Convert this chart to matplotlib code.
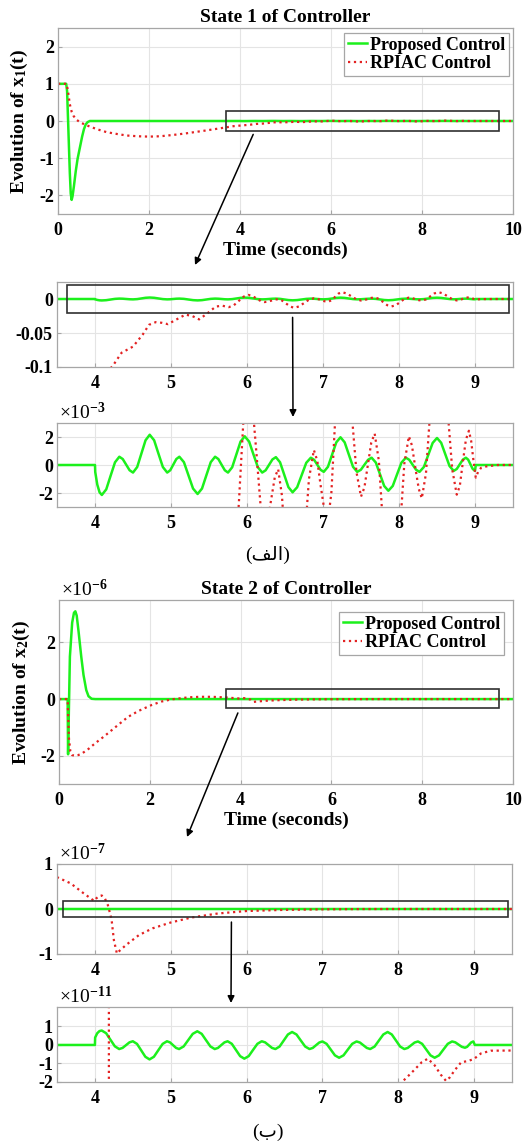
import numpy as np
import matplotlib
matplotlib.use("Agg")
import matplotlib.pyplot as plt
from matplotlib.patches import Rectangle, ConnectionPatch
from matplotlib.ticker import FuncFormatter

# --------------------------------------------------------
# Data
# --------------------------------------------------------

# state 1, proposed control: initial transient (units of 1)
t_x1_prop_start = [0, 0.18, 0.20, 0.23, 0.26, 0.28, 0.30, 0.32, 0.35, 0.39,
                   0.43, 0.48, 0.53, 0.57, 0.61, 0.65, 0.70]
x1_prop_start = [1, 1, 0.8, -0.3, -1.4, -1.95, -2.12, -2.02, -1.75, -1.35,
                 -1.02, -0.72, -0.42, -0.22, -0.09, -0.03, 0]

# state 1, proposed control: small oscillation after t = 4 (units of 1e-3)
t_x1_prop_osc = [4.00, 4.003, 4.03, 4.06, 4.09,
                 4.148, 4.205, 4.263, 4.32, 4.365, 4.41, 4.455, 4.50,
                 4.555, 4.61, 4.665, 4.72, 4.778, 4.835, 4.893, 4.95,
                 4.99, 5.03, 5.07, 5.11, 5.17, 5.23, 5.29, 5.35,
                 5.408, 5.465, 5.523, 5.58, 5.623, 5.665, 5.708, 5.75,
                 5.805, 5.86, 5.915, 5.97, 6.028, 6.085, 6.143, 6.20,
                 6.245, 6.29, 6.335, 6.38, 6.435, 6.49, 6.545, 6.60,
                 6.66, 6.72, 6.78, 6.84, 6.883, 6.925, 6.968, 7.01,
                 7.065, 7.12, 7.175, 7.23, 7.285, 7.34, 7.395, 7.45,
                 7.498, 7.545, 7.593, 7.64, 7.695, 7.75, 7.805, 7.86,
                 7.918, 7.975, 8.033, 8.09, 8.135, 8.18, 8.225, 8.27,
                 8.328, 8.385, 8.443, 8.50, 8.555, 8.61, 8.665, 8.72,
                 8.76, 8.80, 8.84, 8.88, 8.91, 8.94, 8.97, 9.00,
                 9.01, 10.0]
x1_prop_osc_e3 = [0, -0.5, -1.4, -1.95, -2.14,
                  -1.74, -0.775, 0.19, 0.59, 0.425, 0.025, -0.375, -0.54,
                  -0.146, 0.81, 1.766, 2.16, 1.766, 0.81, -0.146, -0.54,
                  -0.375, 0.025, 0.425, 0.59, 0.202, -0.74, -1.682, -2.07,
                  -1.682, -0.74, 0.202, 0.59, 0.425, 0.025, -0.375, -0.54,
                  -0.162, 0.755, 1.672, 2.05, 1.672, 0.755, -0.162, -0.54,
                  -0.379, 0.01, 0.399, 0.56, 0.193, -0.695, -1.583, -1.95,
                  -1.589, -0.715, 0.159, 0.52, 0.372, 0.015, -0.342, -0.49,
                  -0.129, 0.745, 1.619, 1.98, 1.619, 0.745, -0.129, -0.49,
                  -0.342, 0.015, 0.372, 0.52, 0.175, -0.66, -1.495, -1.84,
                  -1.495, -0.66, 0.175, 0.52, 0.372, 0.015, -0.342, -0.49,
                  -0.136, 0.72, 1.576, 1.93, 1.587, 0.755, -0.077, -0.42,
                  -0.283, 0.05, 0.383, 0.52, 0.383, 0.05, -0.283, -0.42,
                  0, 0]

# state 1, RPIAC control (units of 1)
t_x1_rpiac = [0, 0.19, 0.22, 0.26, 0.30, 0.34, 0.40, 0.48, 0.58, 0.70,
              0.88, 1.07, 1.30, 1.51, 1.75, 2.00, 2.25, 2.53, 2.80, 3.05,
              3.25, 3.49, 3.70, 3.85, 4.05, 4.23, 4.35, 4.50, 4.63, 4.71,
              4.80, 4.88, 4.96, 5.09, 5.19, 5.28, 5.37, 5.48, 5.59, 5.68,
              5.76, 5.825, 5.89, 5.955, 6.02, 6.07, 6.125, 6.18, 6.23, 6.275,
              6.32, 6.365, 6.41, 6.46, 6.515, 6.57, 6.62, 6.685, 6.75, 6.815,
              6.88, 6.925, 6.97, 7.02, 7.065, 7.11, 7.158, 7.204, 7.25, 7.31,
              7.375, 7.44, 7.50, 7.545, 7.59, 7.635, 7.68, 7.735, 7.79, 7.845,
              7.90, 7.96, 8.015, 8.07, 8.13, 8.17, 8.215, 8.26, 8.30, 8.355,
              8.41, 8.465, 8.52, 8.58, 8.64, 8.70, 8.76, 8.80, 8.84, 8.88,
              8.92, 8.95, 8.98, 9.01, 9.04, 9.08, 9.15, 9.30, 10.0]
x1_rpiac = [1, 1, 0.8, 0.45, 0.25, 0.14, 0.04, -0.03, -0.09, -0.15,
            -0.23, -0.30, -0.35, -0.39, -0.41, -0.42, -0.41, -0.375, -0.335, -0.29,
            -0.255, -0.21, -0.17, -0.14, -0.118, -0.099, -0.079, -0.070, -0.052, -0.038,
            -0.034, -0.035, -0.037, -0.029, -0.023, -0.025, -0.030, -0.021, -0.011, -0.010,
            -0.012, -0.0094, -0.003, 0.0034, 0.006, 0.0044, 0.0008, -0.003, -0.0045, -0.0039,
            -0.0024, -0.0009, -0.0003, -0.0022, -0.0067, -0.0111, -0.013, -0.0109, -0.006, -0.001,
            0.00107, 0.0003, -0.0015, -0.0033, -0.004, -0.002, 0.003, 0.008, 0.010, 0.0082,
            0.0039, -0.0005, -0.00226, -0.0016, 0.0, 0.0016, 0.00224, 0.0003, -0.0044, -0.0091,
            -0.011, -0.0091, -0.0045, 0.0001, 0.00205, 0.0014, -0.0002, -0.0017, -0.00238, -0.0006,
            0.0038, 0.0082, 0.010, 0.0082, 0.0039, -0.0003, -0.00212, -0.0015, 0.0002, 0.0018,
            0.00245, 0.0017, 0.0003, -0.0009, -0.0005, -0.0002, -0.0001, 0.0, 0.0]

# state 2, proposed control: initial transient (units of 1e-6)
t_x2_prop_start = [0, 0.19, 0.20, 0.215, 0.24, 0.29, 0.33, 0.36, 0.39, 0.43,
                   0.49, 0.54, 0.60, 0.65, 0.72, 0.80]
x2_prop_start_e6 = [0, 0, -1.95, -0.6, 1.5, 2.7, 3.05, 3.1, 2.95, 2.4,
                    1.5, 0.85, 0.32, 0.1, 0.01, 0]

# state 2, proposed control: oscillation after t = 4 (units of 1e-11)
t_x2_prop_osc = [4.00, 4.003, 4.03, 4.06, 4.09,
                 4.148, 4.205, 4.263, 4.32, 4.365, 4.41, 4.455, 4.50,
                 4.555, 4.61, 4.665, 4.72, 4.778, 4.835, 4.893, 4.95,
                 4.99, 5.03, 5.07, 5.11, 5.17, 5.23, 5.29, 5.35,
                 5.408, 5.465, 5.523, 5.58, 5.623, 5.665, 5.708, 5.75,
                 5.805, 5.86, 5.915, 5.97, 6.028, 6.085, 6.143, 6.20,
                 6.245, 6.29, 6.335, 6.38, 6.435, 6.49, 6.545, 6.60,
                 6.658, 6.715, 6.773, 6.83, 6.873, 6.915, 6.958, 7.00,
                 7.055, 7.11, 7.165, 7.22, 7.278, 7.335, 7.393, 7.45,
                 7.495, 7.54, 7.585, 7.63, 7.688, 7.745, 7.803, 7.86,
                 7.915, 7.97, 8.025, 8.08, 8.125, 8.17, 8.215, 8.26,
                 8.315, 8.37, 8.425, 8.48, 8.538, 8.595, 8.653, 8.71,
                 8.753, 8.795, 8.838, 8.88, 8.908, 8.935, 8.963, 8.99,
                 9.01, 10.0]
x2_prop_osc_e11 = [0, 0.4, 0.63, 0.75, 0.78,
                   0.634, 0.28, -0.074, -0.22, -0.159, -0.01, 0.139, 0.20,
                   0.057, -0.29, -0.637, -0.78, -0.637, -0.29, 0.057, 0.20,
                   0.139, -0.01, -0.159, -0.22, -0.08, 0.26, 0.60, 0.74,
                   0.60, 0.26, -0.08, -0.22, -0.159, -0.01, 0.139, 0.20,
                   0.063, -0.27, -0.603, -0.74, -0.603, -0.27, 0.063, 0.20,
                   0.139, -0.01, -0.159, -0.22, -0.086, 0.24, 0.566, 0.70,
                   0.566, 0.24, -0.086, -0.22, -0.16, -0.015, 0.13, 0.19,
                   0.061, -0.25, -0.561, -0.69, -0.561, -0.25, 0.061, 0.19,
                   0.13, -0.015, -0.16, -0.22, -0.086, 0.24, 0.566, 0.70,
                   0.566, 0.24, -0.086, -0.22, -0.16, -0.015, 0.13, 0.19,
                   0.061, -0.25, -0.561, -0.69, -0.561, -0.25, 0.061, 0.19,
                   0.14, 0.02, -0.10, -0.15, -0.10, 0.02, 0.14, 0.19,
                   0, 0]

# state 2, RPIAC control: coarse part (1e-6), middle part (1e-7), tail (1e-11)
t_x2_rpiac_a = [0, 0.19, 0.20, 0.22, 0.25, 0.29, 0.35, 0.42, 0.50, 0.65,
                0.79, 1.00, 1.16, 1.35, 1.52, 1.75, 2.04, 2.25, 2.48, 2.84,
                3.10, 3.36]
x2_rpiac_a_e6 = [0, 0, -0.5, -1.4, -1.85, -1.98, -2.0, -1.98, -1.93, -1.76,
                 -1.57, -1.31, -1.1, -0.85, -0.63, -0.42, -0.21, -0.09, -0.01, 0.06,
                 0.08, 0.08]
t_x2_rpiac_b = [3.51, 3.68, 3.85, 3.99, 4.02, 4.06, 4.09, 4.13, 4.17, 4.20,
                4.22, 4.25, 4.29, 4.33, 4.41, 4.58, 4.76, 5.00, 5.27, 5.62,
                6.00, 6.48, 7.00, 7.50, 7.80]
x2_rpiac_b_e7 = [0.70, 0.57, 0.35, 0.18, 0.24, 0.29, 0.30, 0.24, 0.09, -0.10,
                 -0.24, -0.69, -0.99, -0.92, -0.80, -0.58, -0.43, -0.30, -0.19, -0.10,
                 -0.045, -0.02, -0.008, -0.0015, -0.0005]
t_x2_rpiac_c = [8.05, 8.18, 8.31, 8.39, 8.48, 8.56, 8.63, 8.68, 8.74, 8.83,
                8.92, 9.00, 9.09, 9.22, 9.50, 10.0]
x2_rpiac_c_e11 = [-2.0, -1.48, -0.93, -0.74, -1.1, -1.6, -1.94, -1.75, -1.39, -0.93,
                  -0.87, -0.75, -0.46, -0.31, -0.30, -0.30]

# assemble full series in physical units
t_x1_prop = np.array(t_x1_prop_start + t_x1_prop_osc)
x1_prop = np.concatenate([x1_prop_start, np.array(x1_prop_osc_e3) * 1e-3])
t_x2_prop = np.array(t_x2_prop_start + t_x2_prop_osc)
x2_prop = np.concatenate([np.array(x2_prop_start_e6) * 1e-6,
                          np.array(x2_prop_osc_e11) * 1e-11])
t_x2_rpiac = np.array(t_x2_rpiac_a + t_x2_rpiac_b + t_x2_rpiac_c)
x2_rpiac = np.concatenate([np.array(x2_rpiac_a_e6) * 1e-6,
                           np.array(x2_rpiac_b_e7) * 1e-7,
                           np.array(x2_rpiac_c_e11) * 1e-11])

legend_labels = ["Proposed Control", "RPIAC Control"]

# --------------------------------------------------------
# Style
# --------------------------------------------------------

plt.rcParams["font.family"] = ["Liberation Serif", "DejaVu Sans"]
plt.rcParams["font.weight"] = "bold"
plt.rcParams["axes.labelweight"] = "bold"
plt.rcParams["axes.titleweight"] = "bold"
plt.rcParams["mathtext.fontset"] = "custom"
plt.rcParams["mathtext.rm"] = "Liberation Serif"
plt.rcParams["mathtext.bf"] = "Liberation Serif:bold"
plt.rcParams["mathtext.it"] = "Liberation Serif:italic"
plt.rcParams["axes.unicode_minus"] = False

GREEN = "#1cf01c"
RED = "#e32222"
BOX = "#a6a6a6"

W, H = 531, 1146
fig = plt.figure(figsize=(W / 100, H / 100), dpi=100)


def add_axes(left, right, top, bottom):
    return fig.add_axes([left / W, 1 - bottom / H, (right - left) / W, (bottom - top) / H])


def style(ax, xlim, ylim, xticks, yticks, scale=1.0):
    ax.set_xlim(xlim)
    ax.set_ylim(ylim)
    ax.set_xticks(xticks)
    ax.set_yticks(yticks)
    ax.xaxis.set_major_formatter(FuncFormatter(lambda v, p: f"{v:g}"))
    ax.yaxis.set_major_formatter(FuncFormatter(lambda v, p: f"{round(v / scale, 6):g}"))
    ax.grid(True, color="#e4e4e4", linewidth=0.8)
    ax.set_axisbelow(True)
    for s in ax.spines.values():
        s.set_color(BOX)
        s.set_linewidth(0.9)
    ax.tick_params(direction="in", length=3, color=BOX, labelsize=13)
    ax.tick_params(axis="x", pad=6)
    ax.tick_params(axis="y", pad=3)


def power_label(ax, exp):
    ax.text(0.005, 1.0, "×10$^{\\mathrm{" + exp + "}}$", transform=ax.transAxes,
            fontsize=14, fontweight="normal", ha="left", va="bottom")


def draw(ax, t_p, y_p, t_r, y_r):
    ax.plot(t_p, y_p, color=GREEN, linewidth=1.8, label=legend_labels[0])
    ax.plot(t_r, y_r, color=RED, linestyle=":", linewidth=1.6, label=legend_labels[1])


def zoom_box(ax, x0, x1, y0, y1):
    ax.add_patch(Rectangle((x0, y0), x1 - x0, y1 - y0, fill=False,
                           edgecolor="#303030", linewidth=1.2, zorder=5))


def arrow(ax, xy, fig_xy):
    con = ConnectionPatch(xyA=xy, coordsA=ax.transData,
                          xyB=(fig_xy[0] / W, 1 - fig_xy[1] / H), coordsB=fig.transFigure,
                          arrowstyle="-|>", mutation_scale=10, linewidth=1.1,
                          color="black", shrinkA=0, shrinkB=0)
    fig.add_artist(con)


def legend(ax, dx, dy):
    leg = ax.legend(loc="upper right", bbox_to_anchor=(1 - dx, 1 - dy), fontsize=13,
                    fancybox=False, edgecolor=BOX, framealpha=1, handlelength=1.1,
                    handletextpad=0.15, borderpad=0.2, labelspacing=0.1, borderaxespad=0)
    leg.get_frame().set_linewidth(0.9)


zoom_ticks = [4, 5, 6, 7, 8, 9]

# --------------------------------------------------------
# State 1
# --------------------------------------------------------

ax1 = add_axes(58, 513, 28, 214)
draw(ax1, t_x1_prop, x1_prop, t_x1_rpiac, x1_rpiac)
style(ax1, (0, 10), (-2.5, 2.5), [0, 2, 4, 6, 8, 10], [-2, -1, 0, 1, 2])
ax1.set_title("State 1 of Controller", fontsize=14, fontweight="bold", pad=4)
ax1.set_xlabel("Time (seconds)", fontsize=14, fontweight="bold", labelpad=2)
ax1.set_ylabel(r"Evolution of $\mathbf{x_1}$(t)", fontsize=14, fontweight="bold")
ax1.yaxis.set_label_coords(-0.062, 0.5)
legend(ax1, 4 / 455, 5 / 186)
zoom_box(ax1, 3.7, 9.7, -0.27, 0.27)

ax2 = add_axes(57, 513, 282, 367)
draw(ax2, t_x1_prop, x1_prop, t_x1_rpiac, x1_rpiac)
style(ax2, (3.5, 9.5), (-0.1, 0.025), zoom_ticks, [-0.1, -0.05, 0])
zoom_box(ax2, 3.63, 9.45, -0.0205, 0.0205)

ax3 = add_axes(57, 513, 423, 507)
draw(ax3, t_x1_prop, x1_prop, t_x1_rpiac, x1_rpiac)
style(ax3, (3.5, 9.5), (-3e-3, 3e-3), zoom_ticks, [-2e-3, 0, 2e-3], 1e-3)
power_label(ax3, "-3")

arrow(ax1, (4.29, -0.36), (195, 265))
arrow(ax2, (6.6, -0.027), (293, 417))

# (alef-lam-feh) in visual order using Arabic presentation forms
fig.text(268 / W, 1 - 555 / H, "(\uFED2\uFEDF\uFE8D)", ha="center", va="center",
         fontsize=14, fontweight="normal")

# --------------------------------------------------------
# State 2
# --------------------------------------------------------

ax4 = add_axes(59, 513, 600, 784)
draw(ax4, t_x2_prop, x2_prop, t_x2_rpiac, x2_rpiac)
style(ax4, (0, 10), (-3e-6, 3.5e-6), [0, 2, 4, 6, 8, 10], [-2e-6, 0, 2e-6], 1e-6)
ax4.set_title("State 2 of Controller", fontsize=14, fontweight="bold", pad=4)
ax4.set_xlabel("Time (seconds)", fontsize=14, fontweight="bold", labelpad=2)
ax4.set_ylabel(r"Evolution of $\mathbf{x_2}$(t)", fontsize=14, fontweight="bold")
ax4.yaxis.set_label_coords(-0.06, 0.5)
power_label(ax4, "-6")
legend(ax4, 9 / 454, 12 / 184)
zoom_box(ax4, 3.68, 9.69, -0.33e-6, 0.35e-6)

ax5 = add_axes(57, 512, 864, 954)
draw(ax5, t_x2_prop, x2_prop, t_x2_rpiac, x2_rpiac)
style(ax5, (3.5, 9.5), (-1e-7, 1e-7), zoom_ticks, [-1e-7, 0, 1e-7], 1e-7)
power_label(ax5, "-7")
zoom_box(ax5, 3.58, 9.45, -0.18e-7, 0.18e-7)

ax6 = add_axes(57, 512, 1007, 1082)
draw(ax6, t_x2_prop, x2_prop, t_x2_rpiac, x2_rpiac)
style(ax6, (3.5, 9.5), (-2e-11, 2.05e-11), zoom_ticks, [-2e-11, -1e-11, 0, 1e-11], 1e-11)
power_label(ax6, "-11")

arrow(ax4, (3.94, -0.49e-6), (187, 837))
arrow(ax5, (5.8, -0.29e-7), (231, 1003))

# (beh) isolated form
fig.text(268 / W, 1 - 1132 / H, "(\uFE8F)", ha="center", va="center",
         fontsize=14, fontweight="normal")

fig.savefig("out.png", dpi=100)
